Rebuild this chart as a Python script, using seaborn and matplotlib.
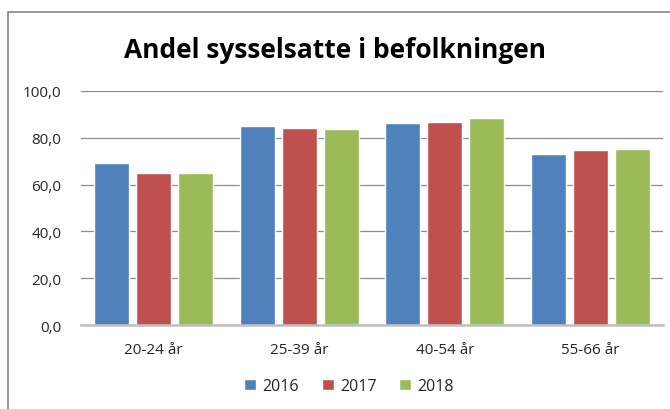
import pandas as pd
import matplotlib.pyplot as plt
import matplotlib.patches as mpatches
import seaborn as sns

# Andel sysselsatte etter aldersgruppe (prosent)
age_groups = ["20-24 år", "25-39 år", "40-54 år", "55-66 år"]
years = ["2016", "2017", "2018"]
share_2016 = [69.3, 85.2, 86.4, 72.9]
share_2017 = [65.1, 84.4, 86.9, 74.6]
share_2018 = [65.0, 83.6, 88.3, 75.3]
y_ticks = [0, 20, 40, 60, 80, 100]

"""Long format for seaborn"""
df = pd.DataFrame({
    "group": age_groups * 3,
    "year": [years[0]] * 4 + [years[1]] * 4 + [years[2]] * 4,
    "share": share_2016 + share_2017 + share_2018,
})

palette = {"2016": "#4F81BD", "2017": "#C0504D", "2018": "#9BBB59"}

sns.set_style("white")
plt.rcParams["font.family"] = ["Open Sans", "DejaVu Sans"]

fig = plt.figure(figsize=(6.7, 4.1), dpi=100)
ax = fig.add_axes([81 / 670, 1 - 326 / 410, 582 / 670, 234 / 410])

sns.barplot(
    data=df,
    x="group",
    y="share",
    hue="year",
    hue_order=years,
    order=age_groups,
    palette=palette,
    width=0.87,
    gap=0.17,
    saturation=1,
    legend=True,
    ax=ax,
)

ax.set_ylim(0, 100)
ax.set_yticks(y_ticks)
ax.set_yticklabels([f"{v:.1f}".replace(".", ",") for v in y_ticks], fontsize=11, color="#262626")
ax.tick_params(axis="y", length=0, pad=14)
ax.tick_params(axis="x", length=0, pad=12, labelsize=11, labelcolor="#262626")
ax.grid(axis="y", color="#8C8C8C", linewidth=0.9)
ax.set_axisbelow(True)
for side in ["left", "right", "top"]:
    ax.spines[side].set_visible(False)
ax.spines["bottom"].set_color("#BFBFBF")
ax.spines["bottom"].set_linewidth(1.8)
ax.set_xlabel("")
ax.set_ylabel("")

ax.legend(
    loc="center",
    bbox_to_anchor=(349 / 670, 1 - 387 / 410),
    bbox_transform=fig.transFigure,
    ncol=3,
    frameon=False,
    fontsize=11.5,
    handlelength=0.75,
    handleheight=0.75,
    handletextpad=0.4,
    columnspacing=1.4,
    labelcolor="#262626",
)

fig.text(0.5, 1 - 50 / 410, "Andel sysselsatte i befolkningen",
         ha="center", va="center", fontsize=19, fontweight="bold", color="black")

# chart frame (right and bottom edges fall outside the picture)
fig.patches.append(mpatches.Rectangle(
    (7.5 / 670, -0.2), 1.2, 1.2 - 13 / 410,
    transform=fig.transFigure, fill=False, edgecolor="#868686", linewidth=1.2,
))

plt.savefig("out.png", dpi=100)
